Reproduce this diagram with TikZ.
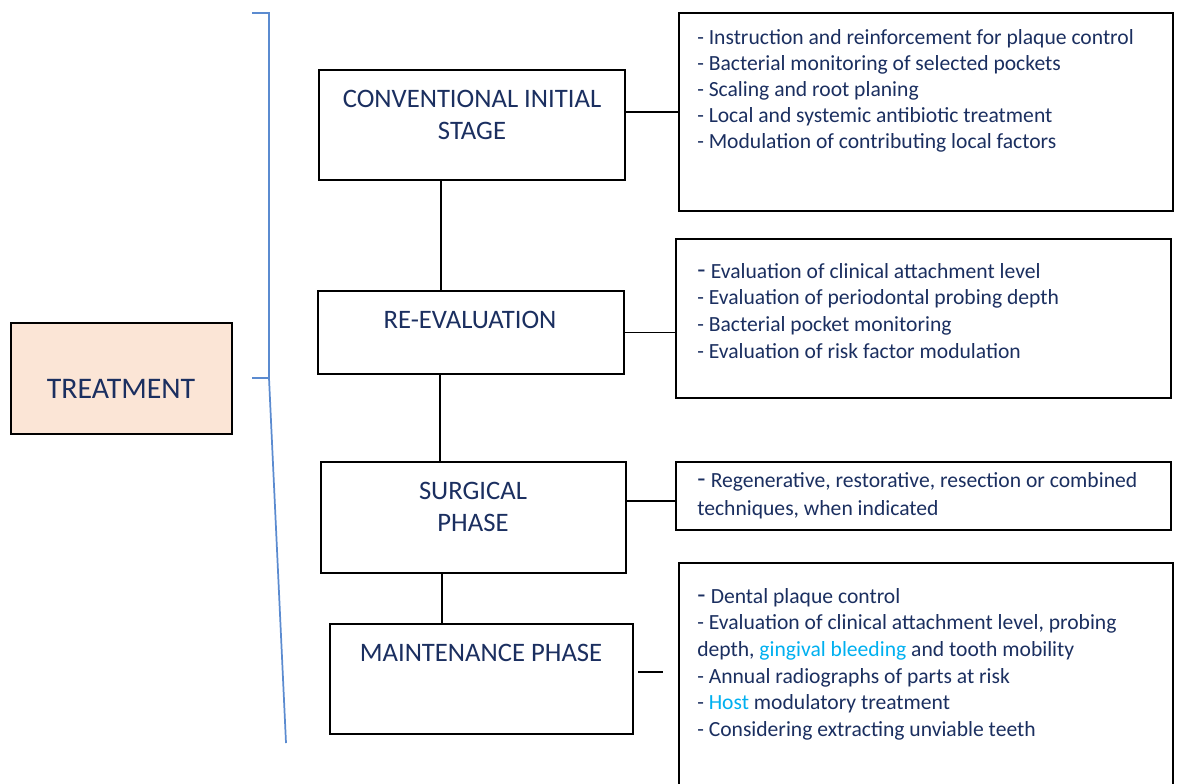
\documentclass[tikz,border=0pt]{standalone}
\usepackage{fontspec}
\setmainfont{Carlito}
\usetikzlibrary{fit}
\definecolor{navy}{HTML}{1B2F60}
\definecolor{lblue}{HTML}{00B0F0}
\definecolor{brk}{HTML}{5B8BD0}
\definecolor{peach}{HTML}{FBE5D6}
\newcommand{\bigdash}{{\fontsize{20}{20}\selectfont -}\hspace{4pt}}
\begin{document}
\begin{tikzpicture}[x=0.75pt,y=-0.75pt,
  box/.style={draw=black, line width=1.4pt, inner sep=0pt},
  lbl/.style={text=navy, font=\fontsize{20}{24}\selectfont, align=center, inner sep=0pt},
  det/.style={text=navy, align=left, anchor=north west, inner sep=0pt},
  link/.style={draw=black, line width=1.4pt},
  brace/.style={draw=brk, line width=1.3pt}]
\clip (0,0) rectangle (1177,783);
\fill[white] (0,0) rectangle (1177,783);
% boxes
\node[box, fill=peach, fit={(11,323) (232,434)}] (treat) {};
\node[box, fit={(319,70) (625,180)}] (conv) {};
\node[box, fit={(318,291) (624,374)}] (reev) {};
\node[box, fit={(321,462) (626,573)}] (surg) {};
\node[box, fit={(330,624) (633,734)}] (maint) {};
\node[box, fit={(679,13) (1173,211)}] (d1) {};
\node[box, fit={(676,239) (1171,398)}] (d2) {};
\node[box, fit={(676,462) (1171,530)}] (d3) {};
\node[box, fit={(679,563) (1173,820)}] (d4) {};
% labels
\node[lbl, font=\fontsize{22.4}{24}\selectfont] (tlab) at (121,389) {TREATMENT};
\node[lbl] (clab) at (472,115) {CONVENTIONAL INITIAL\\STAGE};
\node[lbl] (rlab) at (470,320) {RE-EVALUATION};
\node[lbl] (slab) at (473,507) {SURGICAL\\PHASE};
\node[lbl] (mlab) at (481,653) {MAINTENANCE PHASE};
% details
\node[det, font=\fontsize{16.2}{19.5}\selectfont] (t1) at (697,29) {- Instruction and reinforcement for plaque control\\- Bacterial monitoring of selected pockets\\- Scaling and root planing\\- Local and systemic antibiotic treatment\\- Modulation of contributing local factors};
\node[det, font=\fontsize{16.2}{20}\selectfont] (t2) at (697,263) {\bigdash Evaluation of clinical attachment level\\- Evaluation of periodontal probing depth\\- Bacterial pocket monitoring\\- Evaluation of risk factor modulation};
\node[det, font=\fontsize{16.2}{21}\selectfont] (t3) at (697,472) {\bigdash Regenerative, restorative, resection or combined\\techniques, when indicated};
\node[det, font=\fontsize{16.2}{20}\selectfont] (t4) at (697,588) {\bigdash Dental plaque control\\- Evaluation of clinical attachment level, probing\\depth, \textcolor{lblue}{gingival bleeding} and tooth mobility\\- Annual radiographs of parts at risk\\- \textcolor{lblue}{Host} modulatory treatment\\- Considering extracting unviable teeth};
% connectors
\coordinate (v1) at (441,0);
\coordinate (v2) at (440,0);
\coordinate (v3) at (442,0);
\coordinate (s3) at (0,501);
\coordinate (m1) at (638,672);
\coordinate (m2) at (663,672);
\draw[link] (conv.east |- d1.west) -- (d1.west);
\draw[link] (reev.east) -- (reev.east -| d2.west);
\draw[link] (surg.east |- s3) -- (d3.west |- s3);
\draw[link] (m1) -- (m2);
\draw[link] (conv.south -| v1) -- (reev.north -| v1);
\draw[link] (reev.south -| v2) -- (surg.north -| v2);
\draw[link] (surg.south -| v3) -- (maint.north -| v3);
% bracket
\coordinate (b0) at (252,13);
\coordinate (b1) at (269,13);
\coordinate (b2) at (269,378);
\coordinate (b3) at (252,378);
\coordinate (b4) at (286,743);
\draw[brace] (b0) -- (b1) -- (b2) -- (b4);
\draw[brace] (b3) -- (b2);
\end{tikzpicture}
\end{document}
